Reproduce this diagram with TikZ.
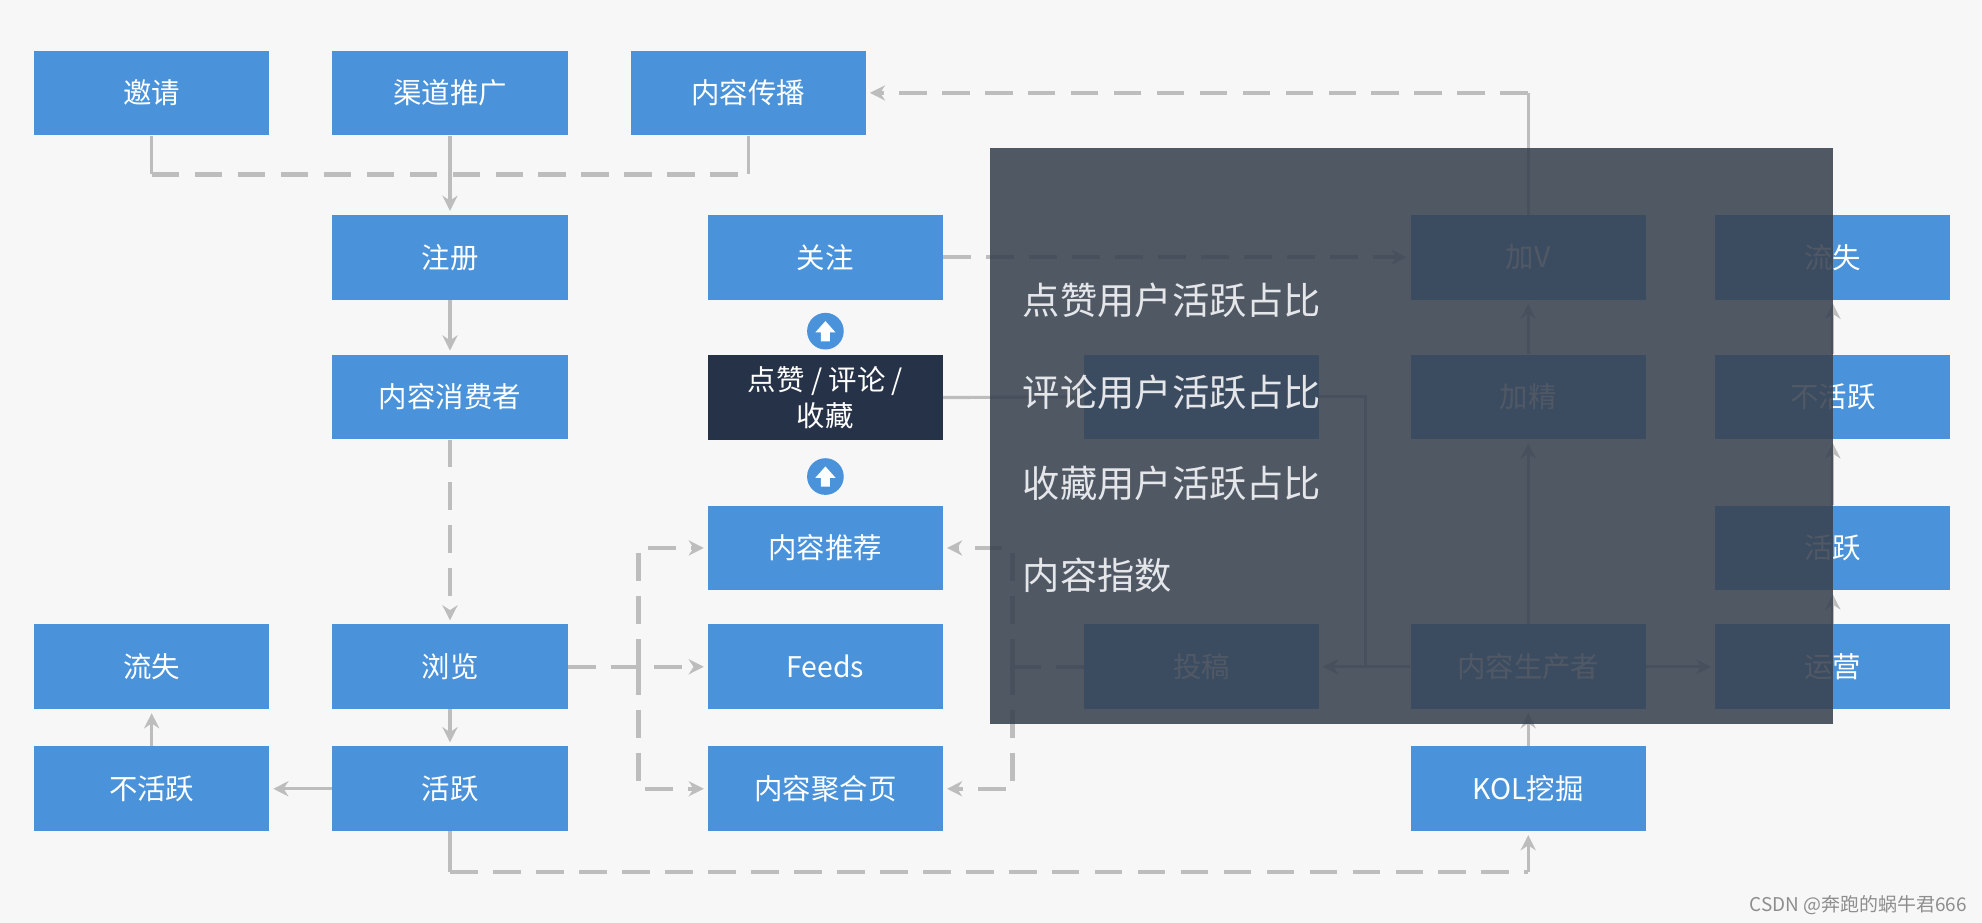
\documentclass[tikz,border=0pt]{standalone}
\usepackage{fontspec}
\setmainfont{Noto Sans CJK SC}
\usetikzlibrary{arrows.meta,calc}
\definecolor{bxblue}{HTML}{4A93DB}
\definecolor{bxdark}{HTML}{263247}
\definecolor{lngrey}{HTML}{BDBDBD}
\definecolor{bgcol}{HTML}{F7F7F8}
\definecolor{ovcol}{HTML}{394250}
\definecolor{ovtext}{HTML}{E4E6EA}
\definecolor{wmcol}{HTML}{8E8E8E}
\begin{document}
\begin{tikzpicture}[x=1pt,y=-1pt,
  box/.style={rectangle, fill=bxblue, text=white, minimum width=186pt, minimum height=67pt, inner sep=0pt, align=center, font=\fontsize{22.5}{28}\selectfont},
  darkbox/.style={box, fill=bxdark},
  solidln/.style={draw=lngrey, line width=2.5pt},
  dashln/.style={draw=lngrey, line width=3.5pt, dash pattern=on 22pt off 12pt},
  arr/.style={-{Stealth[length=12pt,width=12pt]}, shorten >=3pt},
  upcirc/.style={circle, fill=bxblue, minimum size=29pt, inner sep=0pt},
  ovlabel/.style={anchor=west, text=ovtext, inner sep=0pt, font=\fontsize{29.5}{34}\selectfont}]
\useasboundingbox (0,0) rectangle (1568,730.2);
\fill[bgcol] (0,0) rectangle (1568,730.2);

% row 1
\node[box] (yq) at (120,73.5) {邀请};
\node[box] (qd) at (356,73.5) {渠道推广};
\node[box] (cb) at (592,73.5) {内容传播};
% row 2
\node[box] (zc) at (356,203.5) {注册};
\node[box] (gz) at (653,203.5) {关注};
\node[box] (jv) at (1209,203.5) {加V};
\node[box] (lsr) at (1450,203.5) {流失};
% row 3
\node[box] (xf) at (356,314) {内容消费者};
\node[darkbox] (dz) at (653,314.5) {点赞 / 评论 /\\收藏};
\node[box] (hb) at (950.5,314) {};
\node[box] (jj) at (1209,314) {加精};
\node[box] (bhyr) at (1450,314) {不活跃};
% row 4
\node[box] (tj) at (653,433.5) {内容推荐};
\node[box] (hyr) at (1450,433.5) {活跃};
% row 5
\node[box] (ls) at (120,527.5) {流失};
\node[box] (ll) at (356,527.5) {浏览};
\node[box] (fd) at (653,527.5) {Feeds};
\node[box] (tg) at (950.5,527.5) {投稿};
\node[box] (sc) at (1209,527.5) {内容生产者};
\node[box] (yy) at (1450,527.5) {运营};
% row 6
\node[box] (bhy) at (120,624) {不活跃};
\node[box] (hy) at (356,624) {活跃};
\node[box] (jh) at (653,624) {内容聚合页};
\node[box] (kol) at (1209,624) {KOL挖掘};

% circles with up arrows
\node[upcirc] (u1) at (653,262) {};
\node[upcirc] (u2) at (653,377) {};
\foreach \c in {u1,u2}{
  \fill[white] ($(\c.center)+(-8,1)$) -- ($(\c.center)+(0,-8)$) -- ($(\c.center)+(8,1)$) -- ($(\c.center)+(3.5,1)$) -- ($(\c.center)+(3.5,8)$) -- ($(\c.center)+(-3.5,8)$) -- ($(\c.center)+(-3.5,1)$) -- cycle;
}

% coordinates
\coordinate (c1) at (120,138);
\coordinate (c2) at (592,138);
\coordinate (j1) at (505,527.5);
\coordinate (b1) at (356,690);
\coordinate (b2) at (1209,690);
\coordinate (t1) at (1209,73.5);
\coordinate (k1) at (1080,314);
\coordinate (k2) at (1080,527.5);
\coordinate (j2) at (801,527.5);

% top merge
\draw[solidln] (yq.south) -- (c1);
\draw[solidln] (cb.south) -- (c2);
\draw[dashln] (c1) -- (c2);
\draw[solidln,arr] (qd.south) -- (zc.north);
\draw[solidln,arr] (zc.south) -- (xf.north);
\draw[dashln,arr] (xf.south) -- (ll.north);
\draw[solidln,arr] (ll.south) -- (hy.north);
\draw[solidln,arr] (hy.west) -- (bhy.east);
\draw[solidln,arr] (bhy.north) -- (ls.south);
% browse branches
\draw[dashln,arr] (ll.east) -- (fd.west);
\draw[dashln,arr] (j1) |- (tj.west);
\draw[dashln,arr] (j1) |- (jh.west);
% bottom to KOL
\draw[solidln] (hy.south) -- (b1);
\draw[dashln] (b1) -- (b2);
\draw[solidln,arr] (b2) -- (kol.south);
\draw[solidln,arr] (kol.north) -- (sc.south);
% right column
\draw[solidln,arr] (sc.north) -- (jj.south);
\draw[solidln,arr] (jj.north) -- (jv.south);
\draw[solidln] (jv.north) -- (t1);
\draw[dashln,arr] (t1) -- (cb.east);
\draw[dashln,arr] (gz.east) -- (jv.west);
\draw[solidln] (dz.east) -- (hb.west);
\draw[solidln,arr] (hb.east) -- (k1) -- (k2) -- (tg.east);
\draw[solidln,arr] (sc.west) -- (tg.east);
\draw[dashln] (tg.west) -- (j2);
\draw[dashln,arr] (j2) |- (tj.east);
\draw[dashln,arr] (j2) |- (jh.east);
\draw[solidln,arr] (sc.east) -- (yy.west);
\draw[solidln,arr] (yy.north) -- (hyr.south);
\draw[solidln,arr] (hyr.north) -- (bhyr.south);
\draw[solidln,arr] (bhyr.north) -- (lsr.south);

% overlay
\fill[ovcol, fill opacity=0.88] (783,117) rectangle (1450,573);
\node[ovlabel] (o1) at (809,238) {点赞用户活跃占比};
\node[ovlabel] (o2) at (809,310) {评论用户活跃占比};
\node[ovlabel] (o3) at (809,382) {收藏用户活跃占比};
\node[ovlabel] (o4) at (809,455) {内容指数};

% watermark
\node[anchor=east, text=wmcol, inner sep=0pt, font=\fontsize{15}{18}\selectfont] (wm) at (1556,716) {CSDN @奔跑的蜗牛君666};
\end{tikzpicture}
\end{document}
